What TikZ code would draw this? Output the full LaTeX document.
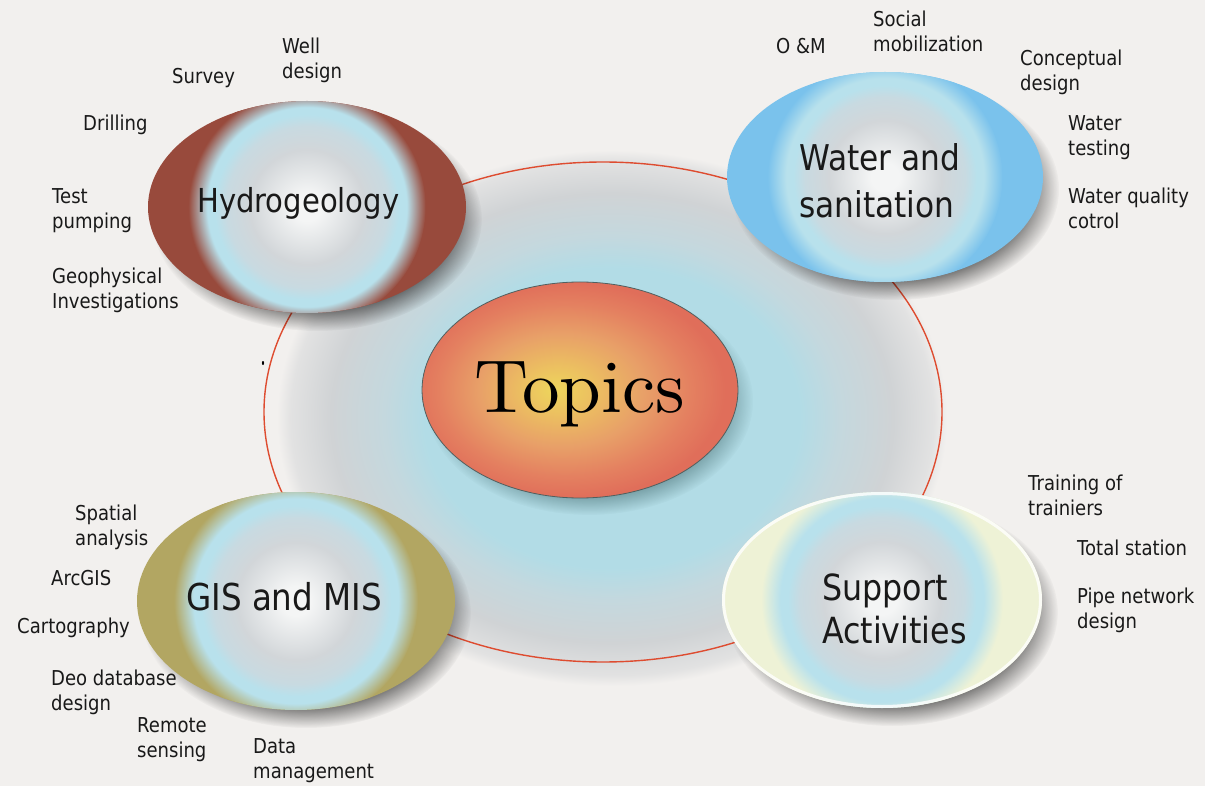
\documentclass[tikz,border=0pt]{standalone}
\usepackage{fontspec}
\setmainfont{DejaVu Sans}[FakeStretch=0.88]
\newfontfamily\topicsfont{lmroman10-regular}[Extension=.otf]
\usetikzlibrary{shapes.geometric,fadings}

\definecolor{bg}{RGB}{242,240,238}
\definecolor{hydroc}{RGB}{152,74,60}
\definecolor{waterc}{RGB}{122,194,236}
\definecolor{gisc}{RGB}{178,166,98}
\definecolor{supportc}{RGB}{238,242,214}
\definecolor{ringred}{RGB}{222,76,48}
\definecolor{ballwhite}{RGB}{244,245,245}
\definecolor{ballgray}{RGB}{210,214,217}
\definecolor{ballgraytwo}{RGB}{200,218,225}
\definecolor{ballcyan}{RGB}{184,225,236}
\definecolor{sphone}{RGB}{178,220,230}
\definecolor{sphtwo}{RGB}{196,216,222}
\definecolor{sphthree}{RGB}{208,211,213}
\definecolor{sphfour}{RGB}{226,226,226}
\definecolor{tyellow}{RGB}{238,214,92}
\definecolor{tyellowtwo}{RGB}{236,194,96}
\definecolor{torange}{RGB}{232,160,104}
\definecolor{tsalmon}{RGB}{228,128,96}
\definecolor{tred}{RGB}{224,110,90}
\definecolor{topicsedge}{RGB}{80,96,96}
\definecolor{labelc}{RGB}{25,25,25}

\pgfdeclareradialshading{spheresh}{\pgfpointorigin}{color(0bp)=(sphone); color(14bp)=(sphone); color(17bp)=(sphtwo); color(21bp)=(sphthree); color(24bp)=(sphfour); color(25bp)=(bg); color(50bp)=(bg)}
\newcommand\declareballshading[2]{\pgfdeclareradialshading{#1}{\pgfpointorigin}{color(0bp)=(ballwhite); color(3bp)=(ballwhite); color(12bp)=(ballgray); color(17bp)=(ballgraytwo); color(19.5bp)=(ballcyan); color(21bp)=(ballcyan); color(25bp)=(#2); color(50bp)=(#2)}}
\declareballshading{shhydro}{hydroc}
\declareballshading{shwater}{waterc}
\declareballshading{shgis}{gisc}
\declareballshading{shsupport}{supportc}
\pgfdeclareradialshading{topicsshade}{\pgfpoint{-4bp}{0bp}}{color(0bp)=(tyellow); color(5bp)=(tyellowtwo); color(13bp)=(torange); color(20bp)=(tsalmon); color(25bp)=(tred); color(50bp)=(tred)}
\pgfdeclareradialshading{shadowmask}{\pgfpointorigin}{color(0bp)=(white); color(19bp)=(white); color(25bp)=(black); color(50bp)=(black)}
\pgfdeclarefading{softedge}{\pgfuseshading{shadowmask}}

\newcommand\drawball[6]{%
  \fill[black, opacity=0.65, path fading=softedge, shift={(10,12)}] #2 ellipse [x radius=#3+6, y radius=#4+6];
  \fill[#5] #2 ellipse [x radius=#3, y radius=#4];
  \begin{scope}
    \clip #2 ellipse [x radius=#3, y radius=#4];
    \shade[shading=#6] #2 circle [radius=1.12*#4];
  \end{scope}
  \node[ballnode, minimum width=2*#3, minimum height=2*#4] (#1) at #2 {};
}

\tikzset{
  ballnode/.style={ellipse, inner sep=0pt},
  lbl/.style={anchor=north west, inner sep=0pt, align=left, text=labelc, font=\fontsize{20.5}{25}\selectfont},
  biglbl/.style={anchor=north west, inner sep=0pt, align=left, text=labelc},
}
\newcommand\lstrut{\rule{0pt}{16pt}}

\begin{document}
\begin{tikzpicture}[x=1pt, y=-1pt]
\useasboundingbox (0,0) rectangle (1205,786);
\fill[bg] (0,0) rectangle (1205,786);

% background sphere
\shade[shading=spheresh] (612,418) ellipse [x radius=335, y radius=268];

% ring
\draw[ringred, line width=1.4] (603,412) ellipse [x radius=339, y radius=250];
\fill[black] (263,363) ellipse [x radius=1.1, y radius=2];

% balls
\drawball{hydro}{(307,207)}{159}{106}{hydroc}{shhydro}
\drawball{water}{(885,177)}{158}{105}{waterc}{shwater}
\drawball{gis}{(296,601)}{159}{109}{gisc}{shgis}
\drawball{support}{(882,600)}{160}{108}{supportc}{shsupport}
\draw[white, line width=3, opacity=0.8] (support.center) ellipse [x radius=158.5, y radius=106.5];

% topics
\fill[black!70!teal, opacity=0.45, path fading=softedge, shift={(9,11)}] (580,390) ellipse [x radius=164, y radius=114];
\node[ballnode, minimum width=316, minimum height=216, shade, shading=topicsshade, draw=topicsedge, line width=0.8] (topics) at (580,390) {};
\node[anchor=base west, inner sep=0pt, text=black, font=\topicsfont\fontsize{75}{75}\selectfont] (topicslbl) at (474,412) {Topics};

% big labels
\node[biglbl, font=\fontsize{33}{44}\selectfont] (hydrolbl) at (197,186) {\rule{0pt}{26pt}Hydrogeology};
\node[biglbl, font=\fontsize{35.5}{47}\selectfont] (waterlbl) at (799,143) {\rule{0pt}{27pt}Water and\\sanitation};
\node[biglbl, font=\fontsize{37}{47}\selectfont] (gislbl) at (186,582) {\rule{0pt}{28pt}GIS and MIS};
\node[biglbl, font=\fontsize{36}{43}\selectfont] (supportlbl) at (822,572) {\rule{0pt}{28pt}Support\\Activities};

% small labels
\node[lbl] (l1) at (282,37) {\lstrut Well\\design};
\node[lbl] (l2) at (172,67) {\lstrut Survey};
\node[lbl] (l3) at (83,114) {\lstrut Drilling};
\node[lbl] (l4) at (52,187) {\lstrut Test\\pumping};
\node[lbl] (l5) at (52,267) {\lstrut Geophysical\\Investigations};
\node[lbl] (l6) at (776,37) {\lstrut O \&M};
\node[lbl] (l7) at (873,10) {\lstrut Social\\mobilization};
\node[lbl] (l8) at (1020,49) {\lstrut Conceptual\\design};
\node[lbl] (l9) at (1068,114) {\lstrut Water\\testing};
\node[lbl] (l10) at (1068,187) {\lstrut Water quality\\cotrol};
\node[lbl] (l11) at (75,504) {\lstrut Spatial\\analysis};
\node[lbl] (l12) at (51,569) {\lstrut ArcGIS};
\node[lbl] (l13) at (17,617) {\lstrut Cartography};
\node[lbl] (l14) at (51,669) {\lstrut Deo database\\design};
\node[lbl] (l15) at (137,716) {\lstrut Remote\\sensing};
\node[lbl] (l16) at (253,737) {\lstrut Data\\management};
\node[lbl] (l17) at (1028,474) {\lstrut Training of\\trainiers};
\node[lbl] (l18) at (1077,539) {\lstrut Total station};
\node[lbl] (l19) at (1077,587) {\lstrut Pipe network\\design};
\end{tikzpicture}
\end{document}
